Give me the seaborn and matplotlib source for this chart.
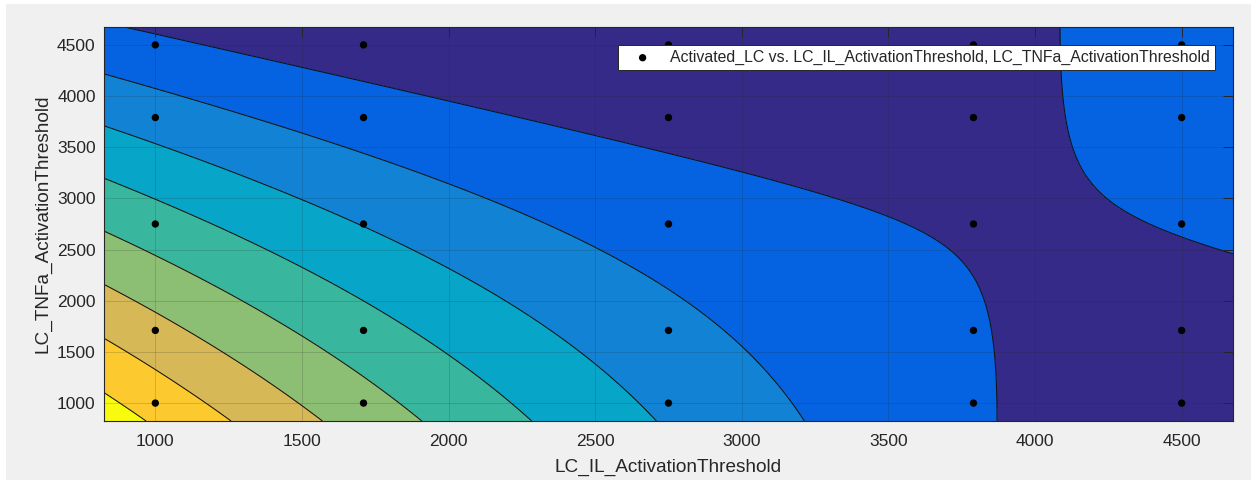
import numpy as np
import pandas as pd
import matplotlib
matplotlib.use("Agg")
import matplotlib.pyplot as plt
from matplotlib.patches import Rectangle
import seaborn as sns

sns.set_style("white")
plt.rcParams['font.family'] = ['Liberation Sans', 'DejaVu Sans']

# sample design (both thresholds) and measured Activated_LC
il_thresh = [1000, 1710, 2750, 3790, 4500]
tnfa_thresh = [1000, 1710, 2750, 3790, 4500]
# one row per IL threshold, columns follow tnfa_thresh
activated_lc = [
    [75.79, 63.19, 44.42, 25.28, 12.01],
    [53.44, 43.92, 29.66, 15.05, 4.86],
    [27.90, 22.90, 15.27, 7.27, 1.60],
    [10.95, 10.47, 9.45, 8.07, 6.92],
    [4.30, 6.90, 10.41, 13.55, 15.48],
]
contour_levels = [10, 20, 30, 40, 50, 60, 70, 80]
band_colors = ['#352A87', '#0562E0', '#1283D4', '#07A6C9', '#38B79E',
               '#8CBE74', '#D6B857', '#FCCA2E', '#F9FB0E']
legend_label = 'Activated_LC vs. LC_IL_ActivationThreshold, LC_TNFa_ActivationThreshold'

IL, TN = np.meshgrid(il_thresh, tnfa_thresh, indexing='ij')
df = pd.DataFrame({'LC_IL_ActivationThreshold': IL.ravel(),
                   'LC_TNFa_ActivationThreshold': TN.ravel(),
                   'Activated_LC': np.array(activated_lc).ravel()})

# poly22 surface fit, like the curve fitting tool
mx, sx = df.iloc[:, 0].mean(), df.iloc[:, 0].std()
my, sy = df.iloc[:, 1].mean(), df.iloc[:, 1].std()


def design(x, y):
    xn, yn = (x - mx) / sx, (y - my) / sy
    return np.column_stack([np.ones_like(xn), xn, yn, xn ** 2, xn * yn, yn ** 2])


coef, *_ = np.linalg.lstsq(design(df.iloc[:, 0].values, df.iloc[:, 1].values),
                           df['Activated_LC'].values, rcond=None)

lims = (825, 4675)
gx, gy = np.meshgrid(np.linspace(*lims, 500), np.linspace(*lims, 500))
gz = (design(gx.ravel(), gy.ravel()) @ coef).reshape(gx.shape)

fig = plt.figure(figsize=(12.51, 4.82), dpi=100, facecolor='white')
fig.patches.append(Rectangle((6 / 1251, 2 / 482), 1, 476 / 482, transform=fig.transFigure,
                             facecolor='#F0F0F0', edgecolor='none', zorder=-10))
ax = fig.add_axes([104 / 1251, 1 - 421 / 482, 1129 / 1251, 394 / 482])

fill_levels = [min(gz.min(), 0) - 1] + contour_levels + [gz.max() + 1]
ax.contourf(gx, gy, gz, levels=fill_levels, colors=band_colors, zorder=0)
ax.contour(gx, gy, gz, levels=contour_levels, colors='#111111', linewidths=0.75, zorder=1)

sns.scatterplot(data=df, x='LC_IL_ActivationThreshold', y='LC_TNFa_ActivationThreshold',
                color='k', s=28, edgecolor='none', label=legend_label, ax=ax, zorder=3)

ax.set_xlim(*lims)
ax.set_ylim(*lims)
ax.set_xticks([1000, 1500, 2000, 2500, 3000, 3500, 4000, 4500])
ax.set_yticks([1000, 1500, 2000, 2500, 3000, 3500, 4000, 4500])
ax.set_axisbelow(False)
ax.grid(True, color='#262626', alpha=0.18, linewidth=0.7)
ax.tick_params(direction='in', length=7.5, width=0.7, top=True, right=True,
               colors='#262626', labelsize=12.5)
ax.tick_params(axis='x', pad=9.5)
ax.tick_params(axis='y', pad=6)
for sp in ax.spines.values():
    sp.set_color('#262626')
    sp.set_linewidth(0.8)
ax.set_xlabel('LC_IL_ActivationThreshold', fontsize=13.7, color='#262626', labelpad=7)
ax.set_ylabel('LC_TNFa_ActivationThreshold', fontsize=13.7, color='#262626', labelpad=4)

leg = ax.legend(loc='upper right', bbox_to_anchor=(0.984, 0.954), borderaxespad=0,
                fontsize=11.4, frameon=True, fancybox=False, framealpha=1,
                borderpad=0.3, handlelength=2.5, handletextpad=0.5)
leg.get_frame().set_edgecolor('#262626')
leg.get_frame().set_linewidth(0.7)

fig.savefig('out.png', dpi=100, facecolor=fig.get_facecolor())
